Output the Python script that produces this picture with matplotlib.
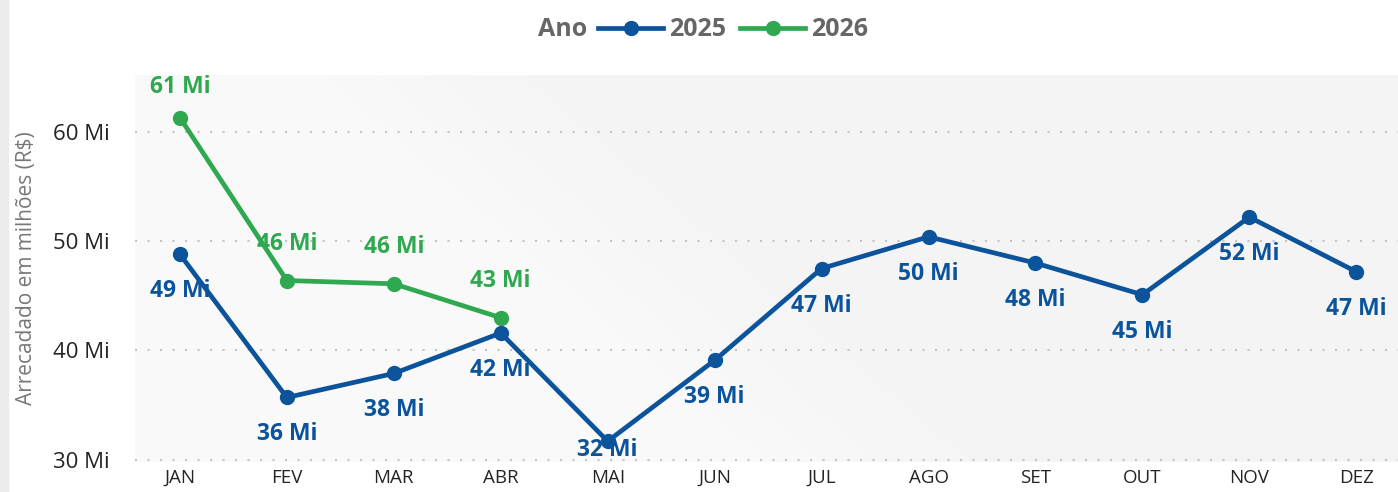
import numpy as np
import matplotlib.pyplot as plt
from matplotlib.patches import Rectangle
from matplotlib.lines import Line2D

plt.rcParams['font.family'] = ['Open Sans', 'DejaVu Sans']

# dados
meses = ['JAN', 'FEV', 'MAR', 'ABR', 'MAI', 'JUN', 'JUL', 'AGO', 'SET', 'OUT', 'NOV', 'DEZ']
v2025 = [48.8, 35.7, 37.9, 41.6, 31.7, 39.1, 47.5, 50.4, 48.0, 45.1, 52.2, 47.2]
v2026 = [61.3, 46.4, 46.1, 43.0]
rot2025 = ['49 Mi', '36 Mi', '38 Mi', '42 Mi', '32 Mi', '39 Mi', '47 Mi', '50 Mi', '48 Mi', '45 Mi', '52 Mi', '47 Mi']
rot2026 = ['61 Mi', '46 Mi', '46 Mi', '43 Mi']
yticks = [30, 40, 50, 60]

azul = '#0b539b'
verde = '#2fa84f'

fig = plt.figure(figsize=(13.98, 4.92), dpi=100)
fig.patches.append(Rectangle((0, 0), 8 / 1398, 1, transform=fig.transFigure, color='#ebebeb', zorder=0))

ax = fig.add_axes([135 / 1398, 1 - 462 / 492, 1 - 135 / 1398, (462 - 75) / 492])
ax.set_xlim(-0.42, 11.39)
ax.set_ylim(29.8, 65.2)

# fundo com leve gradiente
xx, yy = np.meshgrid(np.linspace(0, 1, 300), np.linspace(0, 1, 100))
g = np.clip((xx + 0.35 * yy - 0.5) * 5, 0, 1)
cmap = plt.matplotlib.colors.LinearSegmentedColormap.from_list('bg', ['#f9f9f9', '#f4f4f4'])
ax.imshow(g, extent=[0, 1, 0, 1], transform=ax.transAxes, cmap=cmap, aspect='auto', origin='lower', zorder=0)

for s in ax.spines.values():
    s.set_visible(False)

ax.set_yticks(yticks)
ax.set_yticklabels([f'{t} Mi' for t in yticks], fontsize=16, color='#252423')
ax.set_xticks(range(len(meses)))
ax.set_xticklabels(meses, fontsize=13.5, color='#252423')
ax.tick_params(length=0)
ax.tick_params(axis='y', pad=18)
ax.tick_params(axis='x', pad=5)
ax.grid(axis='y', color='#c4c4c4', linestyle=(0, (1, 5)), linewidth=1.5, zorder=1)
ax.set_ylabel('Arrecadado em milhões (R$)', fontsize=15, color='#777777', labelpad=12)

x25 = np.arange(len(v2025))
x26 = np.arange(len(v2026))
ax.plot(x25, v2025, color=azul, linewidth=3.4, marker='o', markersize=10, zorder=3, clip_on=False)
ax.plot(x26, v2026, color=verde, linewidth=3.4, marker='o', markersize=10, zorder=4, clip_on=False)

# rótulos
ppu = (462 - 75) / (65.2 - 29.8)
for x, v, t in zip(x25, v2025, rot2025):
    yl = max(v - 37 / ppu, 30.9)
    ax.text(x, yl, t, color=azul, fontsize=16.5, fontweight='bold', ha='center', va='center', zorder=5)
for x, v, t in zip(x26, v2026, rot2026):
    yl = min(v + 37 / ppu, 64.1)
    ax.text(x, yl, t, color=verde, fontsize=16.5, fontweight='bold', ha='center', va='center', zorder=5)

# legenda
fig.text(563 / 1398, 1 - 30 / 492, 'Ano', fontsize=18, fontweight='bold', color='#666666', ha='center', va='center')
h = [Line2D([], [], color=azul, linewidth=3.4, marker='o', markersize=10),
     Line2D([], [], color=verde, linewidth=3.4, marker='o', markersize=10)]
leg = fig.legend(h, ['2025', '2026'], loc='center left', bbox_to_anchor=(598 / 1398, 1 - 30 / 492), ncol=2,
                 frameon=False, handlelength=2.6, handletextpad=0.25, columnspacing=0.55,
                 prop={'size': 18, 'weight': 'bold'}, borderpad=0, borderaxespad=0)
for t in leg.get_texts():
    t.set_color('#666666')

fig.savefig('out.png', dpi=100)
